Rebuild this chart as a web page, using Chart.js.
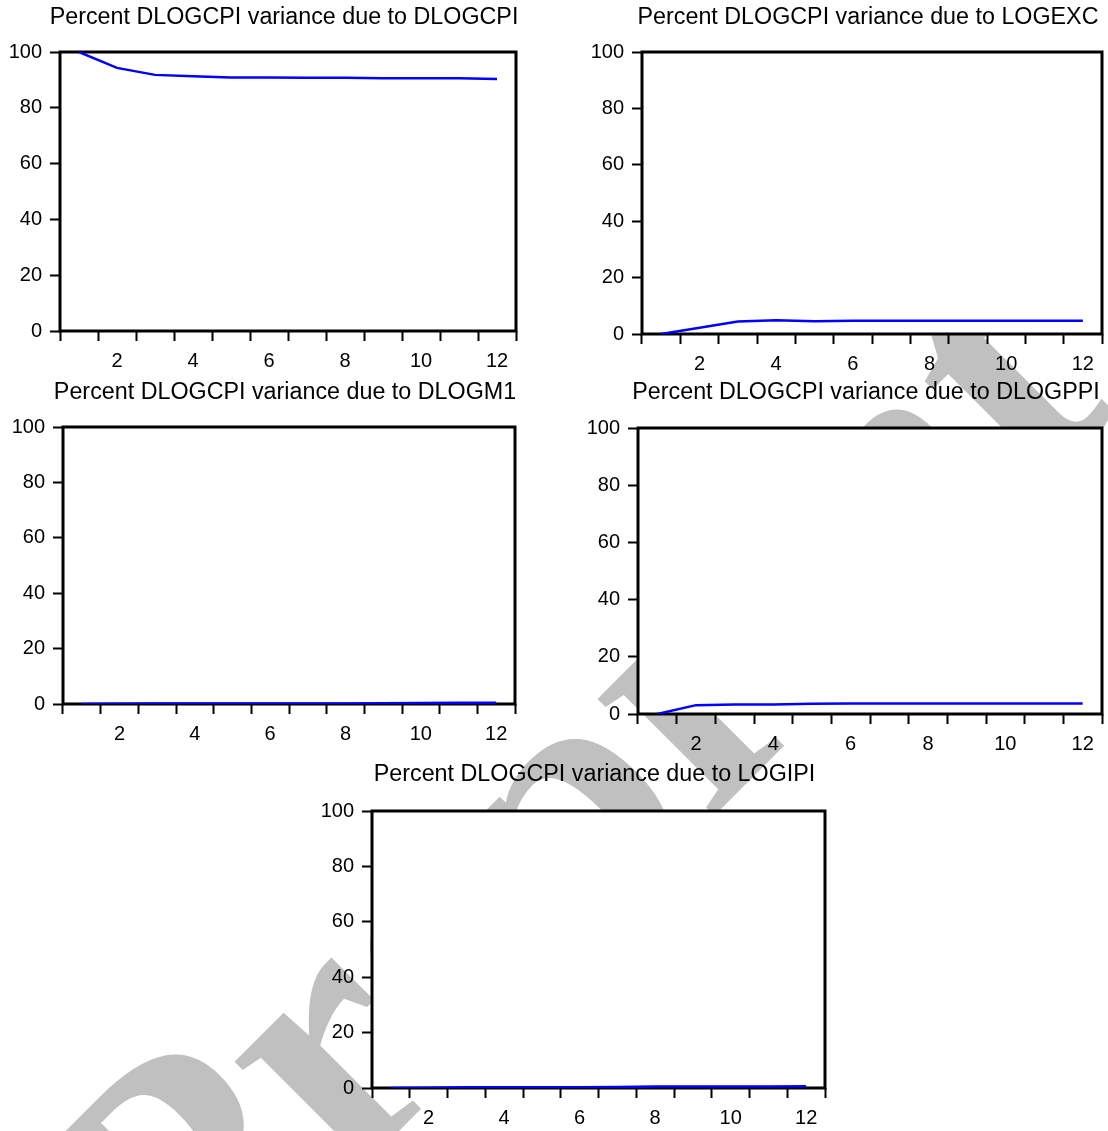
<!DOCTYPE html>
<html>
<head>
<meta charset="utf-8">
<script src="https://cdn.jsdelivr.net/npm/chart.js@4.4.1/dist/chart.umd.min.js"></script>
<style>
  body { margin: 0; background: #fff; }
  #page { position: relative; width: 1108px; height: 1131px; overflow: hidden; }
  #page canvas { position: absolute; }
</style>
</head>
<body>
<div id="page">
  <canvas id="mark" width="1108" height="1131" style="left:0;top:0"></canvas>
  <canvas id="c1"></canvas>
  <canvas id="c2"></canvas>
  <canvas id="c3"></canvas>
  <canvas id="c4"></canvas>
  <canvas id="c5"></canvas>
</div>
<script>
// variance decomposition of DLOGCPI, periods 1..12 (percent)
const periods = [1, 2, 3, 4, 5, 6, 7, 8, 9, 10, 11, 12];
const dueToDLOGCPI = [100, 94.3, 91.8, 91.3, 90.9, 90.9, 90.8, 90.8, 90.6, 90.6, 90.6, 90.3];
const dueToLOGEXC  = [0, 2.2, 4.4, 4.9, 4.5, 4.7, 4.7, 4.7, 4.7, 4.7, 4.7, 4.7];
const dueToDLOGM1  = [0, 0.1, 0.15, 0.2, 0.2, 0.2, 0.2, 0.2, 0.25, 0.4, 0.45, 0.45];
const dueToDLOGPPI = [0, 3.1, 3.3, 3.3, 3.6, 3.7, 3.7, 3.7, 3.7, 3.7, 3.7, 3.7];
const dueToLOGIPI  = [0, 0.1, 0.25, 0.3, 0.3, 0.3, 0.35, 0.5, 0.55, 0.55, 0.55, 0.6];
const yTicks = [0, 20, 40, 60, 80, 100];

const FONT = "'Liberation Sans', Arial, sans-serif";

// plot box [left, top, right, bottom] and title centre line for each panel
const panels = [
  { id: 'c1', title: 'Percent DLOGCPI variance due to DLOGCPI', data: dueToDLOGCPI, box: [60, 52, 516, 331], titleY: 18 },
  { id: 'c2', title: 'Percent DLOGCPI variance due to LOGEXC', data: dueToLOGEXC, box: [642, 52, 1102, 334], titleY: 18 },
  { id: 'c3', title: 'Percent DLOGCPI variance due to DLOGM1', data: dueToDLOGM1, box: [63, 427, 515, 704], titleY: 393 },
  { id: 'c4', title: 'Percent DLOGCPI variance due to DLOGPPI', data: dueToDLOGPPI, box: [638, 428, 1102, 714], titleY: 393 },
  { id: 'c5', title: 'Percent DLOGCPI variance due to LOGIPI', data: dueToLOGIPI, box: [372, 811, 825, 1088], titleY: 775 }
];

// grey "Preprint" stamp running diagonally behind the panels
(function drawStamp() {
  const ctx = document.getElementById('mark').getContext('2d');
  ctx.save();
  ctx.translate(189, 1341);
  ctx.rotate(-45 * Math.PI / 180);
  ctx.fillStyle = '#c0c0c0';
  ctx.font = "bold 360px 'Liberation Serif', 'Times New Roman', serif";
  ctx.textBaseline = 'alphabetic';
  ctx.fillText('Preprint', 0, 0);
  ctx.restore();
})();

// white plot background, closed black frame and a title centred on the plot
const framePlugin = {
  id: 'frame',
  beforeDraw(chart, args, opts) {
    const { ctx, chartArea: a } = chart;
    ctx.save();
    ctx.fillStyle = '#fff';
    ctx.fillRect(a.left, a.top, a.right - a.left, a.bottom - a.top);
    ctx.fillStyle = '#000';
    ctx.font = opts.titleSize + 'px ' + FONT;
    ctx.textAlign = 'center';
    ctx.textBaseline = 'middle';
    ctx.fillText(opts.title, (a.left + a.right) / 2 - 4, opts.titleY);
    ctx.restore();
  },
  beforeDatasetsDraw(chart) {
    const { ctx, chartArea: a } = chart;
    ctx.save();
    ctx.strokeStyle = '#000';
    ctx.lineWidth = 3;
    ctx.strokeRect(a.left, a.top, a.right - a.left, a.bottom - a.top);
    ctx.restore();
  }
};

const AXIS_W = 60, AXIS_H = 46, PAD_R = 6, TITLE_OFF = 16;

panels.forEach(p => {
  const [l, t, r, b] = p.box;
  const canvas = document.getElementById(p.id);
  const top = p.titleY - TITLE_OFF;
  canvas.width = (r - l) + AXIS_W + PAD_R;
  canvas.height = (b - top) + AXIS_H;
  canvas.style.left = (l - AXIS_W) + 'px';
  canvas.style.top = top + 'px';

  new Chart(canvas.getContext('2d'), {
    type: 'line',
    data: {
      labels: periods,
      datasets: [{
        data: p.data,
        borderColor: '#0000ff',
        borderWidth: 2.5,
        pointRadius: 0,
        fill: false,
        tension: 0
      }]
    },
    options: {
      responsive: false,
      animation: false,
      events: [],
      layout: { padding: { left: 0, right: PAD_R, top: t - top, bottom: 0 } },
      plugins: {
        legend: { display: false },
        tooltip: { enabled: false },
        title: { display: false },
        frame: { title: p.title, titleY: TITLE_OFF, titleSize: 23.3 }
      },
      scales: {
        x: {
          type: 'category',
          offset: true,
          grid: { offset: true, drawOnChartArea: false, tickLength: 10, tickWidth: 2, tickColor: '#000' },
          border: { display: false },
          ticks: {
            autoSkip: false,
            maxRotation: 0,
            padding: 8,
            color: '#000',
            font: { family: FONT, size: 20 },
            callback(v) {
              const lab = this.getLabelForValue(v);
              return lab % 2 === 0 ? String(lab) : '';
            }
          },
          afterFit(s) { s.height = AXIS_H; }
        },
        y: {
          min: 0,
          max: 100,
          afterBuildTicks(s) { s.ticks = yTicks.map(v => ({ value: v })); },
          grid: { drawOnChartArea: false, tickLength: 10, tickWidth: 2, tickColor: '#000' },
          border: { display: false },
          ticks: { padding: 8, color: '#000', font: { family: FONT, size: 20 } },
          afterFit(s) { s.width = AXIS_W; }
        }
      }
    },
    plugins: [framePlugin]
  });
});
</script>
</body>
</html>
